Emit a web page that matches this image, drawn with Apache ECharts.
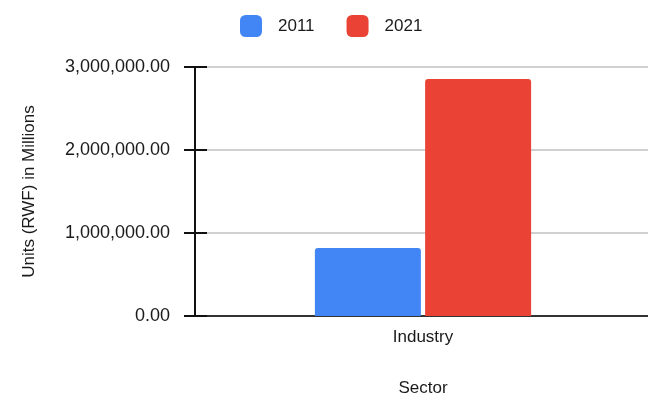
<!DOCTYPE html>
<html>
<head>
<meta charset="utf-8">
<script src="https://cdn.jsdelivr.net/npm/echarts@6/dist/echarts.min.js"></script>
<style>
  html, body { margin: 0; padding: 0; background: #fff; }
  #chart { width: 648px; height: 394px; }
</style>
</head>
<body>
<div id="chart"></div>
<script>
// Sector output by year
const categories = ['Industry'];
const years = ['2011', '2021'];
const values2011 = [820000];
const values2021 = [2855000];
const yTicks = [0, 1000000, 2000000, 3000000];

const FONT = 'Liberation Sans, Arial, sans-serif';
const yMin = yTicks[0];
const yMax = yTicks[yTicks.length - 1];
const yStep = yTicks[1] - yTicks[0];

function fmt(v) {
  return v.toLocaleString('en-US', { minimumFractionDigits: 2, maximumFractionDigits: 2 });
}

const chart = echarts.init(document.getElementById('chart'));
chart.setOption({
  animation: false,
  textStyle: { fontFamily: FONT },
  legend: {
    data: years,
    top: 10,
    left: 235,
    itemWidth: 22,
    itemHeight: 22,
    itemGap: 32,
    icon: 'roundRect',
    textStyle: { fontSize: 17, color: '#1a1a1a', fontFamily: FONT, padding: [0, 0, 0, 11] }
  },
  grid: { left: 195, right: -3, top: 67, bottom: 78, containLabel: false, outerBoundsMode: 'none' },
  xAxis: {
    type: 'category',
    data: categories,
    name: 'Sector',
    nameLocation: 'middle',
    nameGap: 64,
    nameTextStyle: { fontSize: 17, color: '#1a1a1a', fontFamily: FONT },
    axisLine: { lineStyle: { color: '#333', width: 2 } },
    axisTick: { show: false },
    axisLabel: { fontSize: 17, color: '#1a1a1a', margin: 13, fontFamily: FONT }
  },
  yAxis: [
    {
      type: 'value',
      min: yMin,
      max: yMax,
      interval: yStep,
      name: 'Units (RWF) in Millions',
      nameLocation: 'middle',
      nameGap: 157,
      nameTextStyle: { fontSize: 17, color: '#1a1a1a', fontFamily: FONT },
      axisLine: { show: true, lineStyle: { color: '#111', width: 2 } },
      axisTick: { show: true, length: 11, lineStyle: { color: '#111', width: 2 } },
      axisLabel: { fontSize: 18, color: '#1a1a1a', margin: 25, fontFamily: FONT, formatter: fmt },
      splitLine: { show: true, lineStyle: { color: '#d0d0d0', width: 2 } }
    },
    {
      // inward half of the tick marks
      type: 'value',
      position: 'left',
      min: yMin,
      max: yMax,
      interval: yStep,
      axisLine: { show: false },
      axisTick: { show: true, inside: true, length: 12, lineStyle: { color: '#111', width: 2 } },
      axisLabel: { show: false },
      splitLine: { show: false }
    }
  ],
  series: [
    {
      name: years[0],
      type: 'bar',
      data: values2011,
      barWidth: 106,
      barGap: '4%',
      itemStyle: { color: '#4285F4', borderRadius: [3, 3, 0, 0] }
    },
    {
      name: years[1],
      type: 'bar',
      data: values2021,
      barWidth: 106,
      barGap: '4%',
      itemStyle: { color: '#EA4335', borderRadius: [3, 3, 0, 0] }
    }
  ]
});
</script>
</body>
</html>
